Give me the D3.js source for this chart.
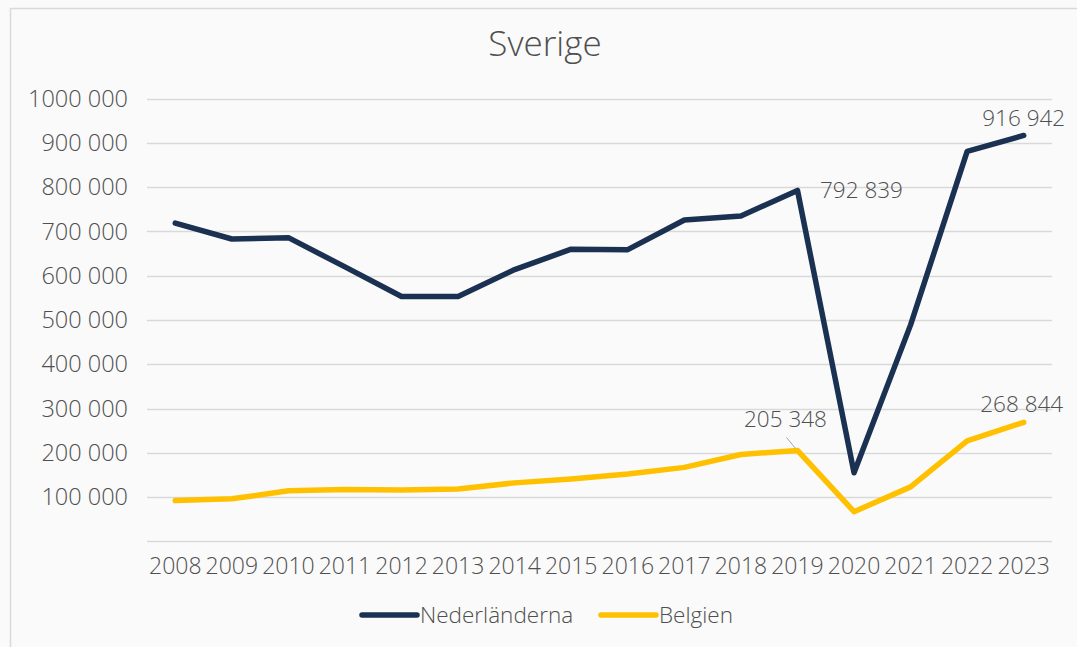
<!DOCTYPE html>
<html lang="sv">
  <head>
    <meta charset="UTF-8" />
    <script src="https://cdn.jsdelivr.net/npm/d3@7"></script>
    <title>Sverige</title>
    <style>
      body { margin: 0; background: #fafafa; }
      svg text { font-family: "Open Sans", sans-serif; font-weight: 300; fill: #4f4f4f; }
    </style>
  </head>
  <body>
    <svg id="chart" width="1077" height="647"></svg>
    <script>
      // data
      var years = ["2008", "2009", "2010", "2011", "2012", "2013", "2014", "2015",
        "2016", "2017", "2018", "2019", "2020", "2021", "2022", "2023"];
      var nederlanderna = [719000, 683000, 686000, 620000, 553000, 553000, 614000, 660000,
        659000, 726000, 735000, 792839, 155000, 489000, 881000, 916942];
      var belgien = [92000, 96000, 114000, 117000, 116000, 118000, 132000, 141000,
        152000, 167000, 196000, 205348, 67000, 123000, 227000, 268844];
      var yTicks = [100000, 200000, 300000, 400000, 500000, 600000, 700000, 800000, 900000, 1000000];
      var seriesNames = ["Nederländerna", "Belgien"];
      var colors = ["#1b3152", "#ffc000"];

      var svg = d3.select("#chart");
      // thousands grouped with a space only before the last three digits (as in the original: "1000 000")
      var fmt = function (v) {
        var s = String(v);
        return s.length > 3 ? s.slice(0, -3) + " " + s.slice(-3) : s;
      };

      // outer frame (only top + left visible)
      svg.append("rect")
        .attr("x", 10.5).attr("y", 8.5)
        .attr("width", 1100).attr("height", 700)
        .attr("fill", "#fafafa")
        .attr("stroke", "#d9d9d9").attr("stroke-width", 1.5);

      var x = d3.scaleBand().domain(years).range([147, 1052]);
      var y = d3.scaleLinear().domain([0, 1000000]).range([541.3, 98.7]);

      // gridlines
      svg.append("g").selectAll("line")
        .data([0].concat(yTicks))
        .join("line")
        .attr("x1", 147).attr("x2", 1052)
        .attr("y1", function (d) { return Math.round(y(d)) + 0.5; })
        .attr("y2", function (d) { return Math.round(y(d)) + 0.5; })
        .attr("stroke", "#d9d9d9").attr("stroke-width", 1.5);

      // y axis labels
      svg.append("g").selectAll("text")
        .data(yTicks)
        .join("text")
        .attr("x", 128).attr("y", function (d) { return y(d); })
        .attr("dy", "0.35em")
        .attr("text-anchor", "end")
        .style("font-size", "23.5px")
        .text(fmt);

      // x axis labels
      svg.append("g").selectAll("text")
        .data(years)
        .join("text")
        .attr("x", function (d) { return x(d) + x.bandwidth() / 2; })
        .attr("y", 574)
        .attr("text-anchor", "middle")
        .style("font-size", "23px")
        .text(function (d) { return d; });

      var line = d3.line()
        .x(function (d, i) { return x(years[i]) + x.bandwidth() / 2; })
        .y(function (d) { return y(d); });

      [nederlanderna, belgien].forEach(function (s, k) {
        svg.append("path")
          .datum(s)
          .attr("d", line)
          .attr("fill", "none")
          .attr("stroke", colors[k])
          .attr("stroke-width", 5.5)
          .attr("stroke-linejoin", "round")
          .attr("stroke-linecap", "round");
      });

      // data labels
      var cx = function (yr) { return x(yr) + x.bandwidth() / 2; };
      var labels = [
        { yr: "2019", v: nederlanderna[11], dx: 64, dy: 0 },
        { yr: "2023", v: nederlanderna[15], dx: 0, dy: -17 },
        { yr: "2019", v: belgien[11], dx: -12, dy: -31 },
        { yr: "2023", v: belgien[15], dx: -2, dy: -18 }
      ];
      svg.append("g").selectAll("text")
        .data(labels)
        .join("text")
        .attr("x", function (d) { return cx(d.yr) + d.dx; })
        .attr("y", function (d) { return y(d.v) + d.dy; })
        .attr("dy", "0.35em")
        .attr("text-anchor", "middle")
        .style("font-size", "22.5px")
        .text(function (d) { return fmt(d.v); });

      // leader line for Belgien 2019
      svg.append("line")
        .attr("x1", cx("2019") - 11).attr("y1", y(belgien[11]) - 13)
        .attr("x2", cx("2019") - 2).attr("y2", y(belgien[11]) - 2)
        .attr("stroke", "#a6a6a6").attr("stroke-width", 1);

      // title
      svg.append("text")
        .attr("x", 545).attr("y", 56)
        .attr("text-anchor", "middle")
        .style("font-size", "35px")
        .text("Sverige");

      // legend
      var legend = svg.append("g").selectAll("g")
        .data(seriesNames)
        .join("g")
        .attr("transform", function (d, i) { return "translate(" + [362, 601][i] + ",615)"; });
      legend.append("line")
        .attr("x1", 0).attr("x2", 55)
        .attr("stroke", function (d, i) { return colors[i]; })
        .attr("stroke-width", 5.5)
        .attr("stroke-linecap", "round");
      legend.append("text")
        .attr("x", 58).attr("dy", "0.35em")
        .style("font-size", "22.5px")
        .text(function (d) { return d; });
    </script>
  </body>
</html>
